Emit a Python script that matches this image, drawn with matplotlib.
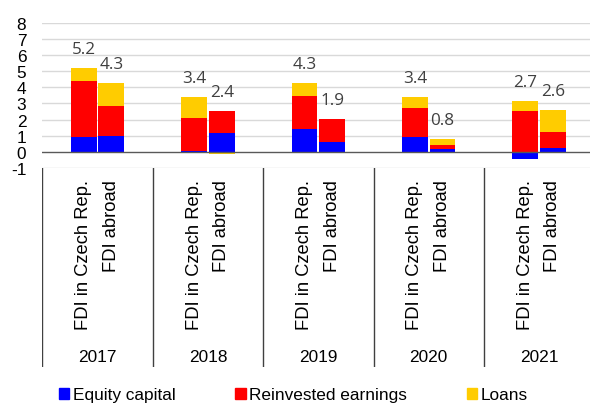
import numpy as np
import matplotlib.pyplot as plt

# FDI income components, CZK bn-ish units
years = ["2017", "2018", "2019", "2020", "2021"]
bar_names = ["FDI in Czech Rep.", "FDI abroad"]
series = ["Equity capital", "Reinvested earnings", "Loans"]
colors = ["#0000ff", "#ff0000", "#ffcc00"]

equity_cz = [0.93, 0.02, 1.43, 0.93, -0.45]
reinv_cz = [3.45, 2.08, 2.03, 1.79, 2.53]
loans_cz = [0.82, 1.30, 0.81, 0.68, 0.64]

equity_ab = [1.00, 1.18, 0.60, 0.19, 0.23]
reinv_ab = [1.86, 1.36, 1.41, 0.25, 1.01]
loans_ab = [1.41, -0.12, -0.10, 0.37, 1.38]

plt.rcParams['font.family'] = ['Liberation Sans', 'DejaVu Sans']
plt.rcParams['axes.unicode_minus'] = False

W, H = 590, 406
fig = plt.figure(figsize=(W / 100, H / 100), dpi=100)

left, right = 42.3, 594.3
top, bottom = 24, 168.8
ax = fig.add_axes([left / W, 1 - bottom / H, (right - left) / W, (bottom - top) / H])

x = np.arange(len(years))
width = 0.235
offsets = [-0.125, 0.125]
groups = [[equity_cz, reinv_cz, loans_cz], [equity_ab, reinv_ab, loans_ab]]

for off, comps in zip(offsets, groups):
    pos_base = np.zeros(len(years))
    neg_base = np.zeros(len(years))
    for vals, col in zip(comps, colors):
        vals = np.array(vals)
        base = np.where(vals >= 0, pos_base, neg_base)
        ax.bar(x + off, vals, width, bottom=base, color=col, edgecolor='none', zorder=3)
        pos_base += np.where(vals >= 0, vals, 0)
        neg_base += np.where(vals < 0, vals, 0)
    totals = np.sum(comps, axis=0)
    for xi, t, ptop in zip(x + off, totals, pos_base):
        ax.annotate(f"{t:.1f}", (xi, ptop), xytext=(0, 13.7), textcoords='offset points',
                    ha='center', va='center', fontsize=12.3, color='#404040',
                    family=['Open Sans', 'DejaVu Sans'])

ax.set_xlim(-0.5, len(years) - 0.5)
ax.set_ylim(-1, 8)
ax.set_yticks(range(-1, 9))
ax.tick_params(axis='y', length=0, pad=11.5, labelsize=12.4)
ax.set_xticks([])
for v in range(-1, 9):
    if v != 0:
        ax.axhline(v, color='#d9d9d9', lw=1, zorder=1)
ax.axhline(0, color='#595959', lw=1, zorder=4)
for s in ax.spines.values():
    s.set_visible(False)

# category box below the plot
cat_bottom = 368
cax = fig.add_axes([left / W, 1 - cat_bottom / H, (right - left) / W, (cat_bottom - bottom) / H])
cax.set_xlim(-0.5, len(years) - 0.5)
cax.set_ylim(cat_bottom, bottom)
cax.axis('off')
for b in np.arange(len(years) + 1) - 0.5:
    cax.axvline(b, color='#404040', lw=1)
for i, yr in enumerate(years):
    for off, name in zip(offsets, bar_names):
        cax.text(i + off, 180, name, rotation=90, ha='center', va='top', fontsize=13.2)
    cax.text(i, 358, yr, ha='center', va='center', fontsize=12.4)

handles = [plt.Rectangle((0, 0), 1, 1, color=c) for c in colors]
fig.legend(handles, series, loc='center left', bbox_to_anchor=(59 / W, 1 - 396 / H),
           ncol=3, frameon=False, fontsize=12.4, handlelength=0.6, handleheight=0.6,
           handletextpad=0.22, columnspacing=3.45, borderpad=0, borderaxespad=0)

fig.savefig("out.png", dpi=100)
